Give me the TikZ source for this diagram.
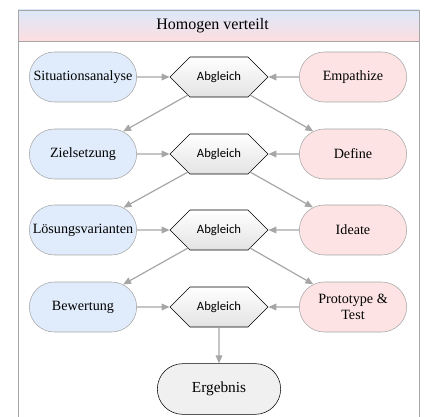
\documentclass[tikz,border=0pt]{standalone}
\usepackage{fontspec}
\setmainfont{Liberation Serif}
\newfontfamily\hexfont{Carlito}
\usetikzlibrary{arrows.meta,calc,shapes.misc,shapes.symbols}
\definecolor{lineGray}{HTML}{A6A6A6}
\definecolor{blueFill}{HTML}{E0ECFB}
\definecolor{pinkFill}{HTML}{FDE3E3}
\definecolor{hexGray}{HTML}{E3E3E3}
\definecolor{resGray}{HTML}{F0F0F0}
\definecolor{titleBlue}{HTML}{DCE8FA}
\definecolor{titlePink}{HTML}{FDDEE0}
\tikzset{
  leftstate/.style={rounded rectangle,draw=lineGray,fill=blueFill,minimum width=82.5pt,
    minimum height=37.5pt,inner sep=1pt,align=center,font=\fontsize{10.6}{11.5}\selectfont},
  rightstate/.style={leftstate,fill=pinkFill},
  matchbox/.style={signal,signal to=west and east,signal pointer angle=90,draw=black,
    top color=white,bottom color=hexGray,minimum width=73.5pt,minimum height=30pt,
    inner sep=1pt,font=\hexfont\fontsize{9.5}{10}\selectfont},
  resultstate/.style={rounded rectangle,draw=black,fill=resGray,minimum width=94.5pt,
    minimum height=38pt,inner sep=1pt,font=\fontsize{11.5}{12}\selectfont},
  flow/.style={draw=lineGray,line width=0.9pt,-{Triangle[length=6pt,width=5pt]}}
}
\begin{document}
\begin{tikzpicture}[x=0.75pt,y=-0.75pt]
        \useasboundingbox (0,0) rectangle (425,417);
        % frame with title band
        \shade[top color=titleBlue,bottom color=titlePink] (18,10) rectangle (419,41);
        \draw[lineGray] (18,417) -- (18,10) -- (419,10) -- (419,417);
        \draw[lineGray] (18,41) -- (419,41);
        \node[font=\fontsize{12}{13}\selectfont] (title) at (212.5,25.5) {Homogen verteilt};
        % left column
        \node[leftstate] (s1) at (83,77) {Situationsanalyse};
        \node[leftstate] (s2) at (83,154) {Zielsetzung};
        \node[leftstate] (s3) at (83,230) {Lösungsvarianten};
        \node[leftstate] (s4) at (83,307) {Bewertung};
        % middle column
        \node[matchbox] (h1) at (219,77) {Abgleich};
        \node[matchbox] (h2) at (219,154) {Abgleich};
        \node[matchbox] (h3) at (219,230) {Abgleich};
        \node[matchbox] (h4) at (219,307) {Abgleich};
        % right column
        \node[rightstate] (d1) at (353,77) {Empathize};
        \node[rightstate] (d2) at (353,154) {Define};
        \node[rightstate] (d3) at (353,230) {Ideate};
        \node[rightstate] (d4) at (353,307) {Prototype \&\\Test};
        \node[resultstate] (erg) at (219,389) {Ergebnis};
        % horizontal feeds into the Abgleich boxes
        \foreach \i in {1,...,4} {
          \draw[flow] (s\i) -- (h\i);
          \draw[flow] (d\i) -- (h\i);
        }
        % diagonal hand-over to the next row
        \foreach \i/\j in {1/2,2/3,3/4} {
          \draw[flow] ($(h\i)+(-31,18)$) -- (s\j);
          \draw[flow] ($(h\i)+(31,18)$) -- (d\j);
        }
        \draw[flow] (h4) -- (erg);
      \end{tikzpicture}
\end{document}
